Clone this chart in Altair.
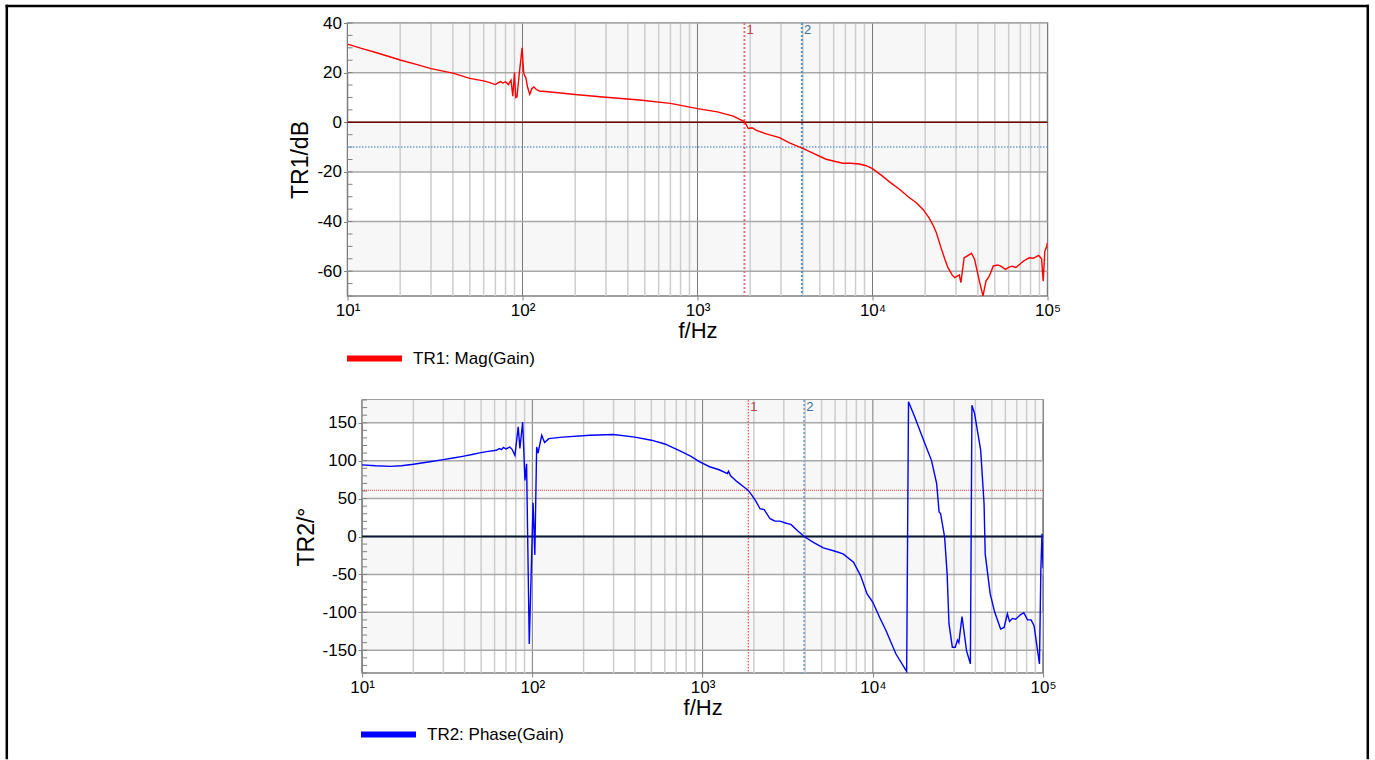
import altair as alt
import pandas as pd

# ---------------- data ----------------
mag_freq = [10, 12, 15, 20, 25, 30, 40, 50, 60, 65, 70, 72, 75, 77, 80, 83, 86, 88, 90, 91.5,
            93, 96, 99.5, 101.5, 103, 104.5, 107, 110, 113, 116, 120, 125, 140, 200, 277, 466,
            700, 1000, 1300, 1600, 1850, 1900, 1950, 2050, 2170, 2500, 2940, 3350, 3940, 4500,
            5430, 6750, 7500, 8420, 9200, 10000, 11260, 12500, 14250, 16000, 17800, 19500, 21000,
            22200, 23170, 24000, 24800, 26000, 27000, 28500, 29500, 30500, 31300, 32000, 33400,
            34500, 36800, 38300, 41000, 42800, 44500, 46500, 49000, 52000, 54000, 57600, 60000,
            62700, 66000, 70000, 73000, 78500, 83000, 89000, 92500, 94500, 96500, 98500, 100000]
mag_db = [31.5, 29.8, 27.8, 25.1, 23.2, 21.6, 19.8, 17.7, 16.7, 16.0, 15.2, 15.8, 16.4, 15.8, 16.3, 15.2, 17.0, 10.5, 20.0, 10.0,
          10.3, 20.0, 30.0, 20.0, 18.7, 18.0, 14.0, 11.3, 13.5, 14.2, 13.2, 12.6, 12.3, 11.2, 10.3, 9.0,
          7.6, 5.5, 4.2, 2.5, 0.3, -1.0, -2.5, -2.2, -3.3, -4.8, -6.2, -8.3, -10.3, -12.2,
          -14.9, -16.5, -16.5, -16.8, -17.5, -18.7, -21.4, -24.0, -27.0, -30.0, -32.4, -35.2, -38.4,
          -41.5, -44.5, -48.0, -51.2, -55.5, -58.6, -61.5, -62.6, -62.0, -61.5, -64.6, -54.6,
          -54.0, -52.8, -55.2, -64.6, -70.0, -64.0, -62.0, -57.9, -57.5, -58.0, -59.3, -58.5,
          -58.0, -58.5, -57.0, -55.9, -54.6, -54.8, -53.6, -55.0, -64.0, -52.0, -50.5, -48.5]

ph_freq = [10, 12, 14.6, 17, 20, 25, 30, 35, 39, 45, 49, 55, 61.5, 64, 66, 67.5, 70, 73.7, 76, 79,
           82.6, 84.5, 87.7, 90.5, 92.5, 95.9, 101, 103.4, 106, 108, 113.5, 118, 125, 150, 218, 300,
           400, 500, 600, 736, 850, 963, 1100, 1250, 1400, 1420, 1460, 1600, 1734, 1855, 1941, 2050,
           2174, 2300, 2490, 2650, 2845, 3100, 3300, 3600, 3950, 4500, 5120, 6000, 6690, 7700, 8470,
           9250, 10000, 10950, 11960, 13670, 15800, 16200, 17600, 20200, 22100, 23700, 24500, 25000,
           26400, 27300, 28000, 29300, 30500, 31400, 32000, 33400, 35500, 37400, 38200, 39600, 43000,
           45000, 45700, 48900, 52000, 56300, 59000, 61700, 63500, 66000, 69000, 73800, 77000, 81000,
           85000, 88500, 95200, 97000, 98500, 100000]
ph_deg = [94.4, 93.2, 92.5, 93.3, 95.2, 98.5, 101.4, 103.8, 105.7, 108.5, 110.2, 112.2, 113.7, 116, 114.5, 117.5, 115.5, 118, 115, 107,
          144.6, 116, 151, 74, 96, -141.8, 44.5, -24.2, 118, 110, 133.5, 124, 129, 131, 133.5, 134.5,
          131, 127, 122, 113, 106, 98.3, 92, 88, 83, 86, 80, 72, 66, 60.8, 55, 47,
          36.6, 35.5, 23.4, 20.5, 20.3, 17.5, 16, 8, 0, -8, -15, -19.5, -22.9, -33.9, -51.5,
          -75.7, -86.7, -106.5, -124.2, -155, -178, 177.6, 157.8, 122.5, 100.4, 69.6, 32.2, 30,
          -0.8, -49, -115, -146, -146, -136.5, -140, -105.7, -150.6, -168, 173, 162, 113.6,
          43.2, -22.9, -75.7, -100, -122, -120, -102, -112, -108, -109, -103, -100.5, -110,
          -110, -117.6, -168, -45, 3.6, -42]

assert len(mag_freq) == len(mag_db), (len(mag_freq), len(mag_db))
assert len(ph_freq) == len(ph_deg), (len(ph_freq), len(ph_deg))

decades = [10, 100, 1000, 10000, 100000]
minor_freqs = [20, 30, 40, 50, 60, 70, 80, 90,
               200, 300, 400, 500, 600, 700, 800, 900,
               2000, 3000, 4000, 5000, 6000, 7000, 8000, 9000,
               20000, 30000, 40000, 50000, 60000, 70000, 80000, 90000]

mag_ticks = [-60, -40, -20, 0, 20, 40]
mag_minor = [-70, -65, -60, -55, -50, -45, -40, -35, -30, -25, -20, -15, -10, -5,
             0, 5, 10, 15, 20, 25, 30, 35, 40]
mag_band_lo = [20, -20, -60]
mag_band_hi = [40, 0, -40]

ph_ticks = [-150, -100, -50, 0, 50, 100, 150]
ph_minor = [-180, -170, -160, -150, -140, -130, -120, -110, -100, -90, -80, -70, -60, -50, -40,
            -30, -20, -10, 0, 10, 20, 30, 40, 50, 60, 70, 80, 90, 100, 110, 120, 130, 140, 150,
            160, 170, 180]
ph_band_lo = [150, 50, -50, -150]
ph_band_hi = [180, 100, 0, -100]

marker_freq = [1855, 3950]
marker_label = ["1", "2"]
mag_marker_level = [0, -10]
ph_marker_level = [61, 0]

FONT = "Liberation Sans"
SUP = "datum.value == 10 ? '10\u00b9' : datum.value == 100 ? '10\u00b2' : datum.value == 1000 ? '10\u00b3' : datum.value == 10000 ? '10\u2074' : '10\u2075'"


def make_panel(freq, vals, ylabel, ydom, yticks, yminor, band_lo, band_hi, levels,
               trace_name, trace_color, width, height, vline_styles, hline_styles,
               label_colors, legend_x, legend_y, frame=False):
    xs = alt.Scale(type="log", domain=[10, 100000], nice=False)
    ys = alt.Scale(domain=ydom, nice=False, zero=False)
    xax = alt.Axis(values=decades, labelExpr=SUP, grid=False, domain=False,
                   tickColor="#808080", tickSize=4, labelFont=FONT, labelFontSize=17,
                   labelColor="black", labelPadding=2, title="f/Hz", titleFont=FONT,
                   titleFontSize=22, titleFontWeight="normal", titleColor="black",
                   titlePadding=2, labelFlush=False)
    yax = alt.Axis(values=yticks, labelExpr="datum.value + ''", grid=False, domain=False,
                   tickColor="#808080", tickSize=4, labelFont=FONT, labelFontSize=17,
                   labelColor="black", labelPadding=2, title=ylabel, titleFont=FONT,
                   titleFontSize=23, titleFontWeight="normal", titleColor="black",
                   titlePadding=4)

    def X(field):
        return alt.X(f"{field}:Q", scale=xs, axis=xax)

    def Y(field):
        return alt.Y(f"{field}:Q", scale=ys, axis=yax)

    bands = pd.DataFrame({"x0": [10] * len(band_lo), "x1": [100000] * len(band_lo),
                          "lo": band_lo, "hi": band_hi})
    band_layer = alt.Chart(bands).mark_rect(color="#f7f7f7").encode(
        x=X("x0"), x2="x1:Q", y=Y("lo"), y2="hi:Q")

    minor_v = alt.Chart(pd.DataFrame({"f": minor_freqs})).mark_rule(
        color="#cdcdcd", strokeWidth=1.5).encode(x=X("f"))
    major_v = alt.Chart(pd.DataFrame({"f": decades})).mark_rule(
        color="#7a7a7a", strokeWidth=1).encode(x=X("f"))
    major_h = alt.Chart(pd.DataFrame({"v": yticks})).mark_rule(
        color="#a8a8a8", strokeWidth=1.5).encode(y=Y("v"))
    minor_ticks = alt.Chart(pd.DataFrame({"v": yminor})).mark_rule(
        color="#808080", strokeWidth=1).encode(y=Y("v"), x=alt.value(0), x2=alt.value(5))

    layers = [band_layer, minor_v, major_v, major_h, minor_ticks]

    for f, (col, sw, dash) in zip(marker_freq, vline_styles):
        layers.append(alt.Chart(pd.DataFrame({"f": [f]})).mark_rule(
            color=col, strokeWidth=sw, strokeDash=dash).encode(x=X("f")))
    for lv, (col, sw, dash) in zip(levels, hline_styles):
        layers.append(alt.Chart(pd.DataFrame({"v": [lv]})).mark_rule(
            color=col, strokeWidth=sw, strokeDash=dash).encode(y=Y("v")))
    for f, lab, col in zip(marker_freq, marker_label, label_colors):
        layers.append(alt.Chart(pd.DataFrame({"f": [f], "v": [ydom[1]], "t": [lab]})).mark_text(
            align="left", baseline="top", dx=2, dy=1, fontSize=13, font=FONT, color=col
        ).encode(x=X("f"), y=Y("v"), text="t:N"))

    curve = pd.DataFrame({"f": freq, "v": vals, "trace": [trace_name] * len(freq)})
    layers.append(alt.Chart(curve).mark_line(strokeWidth=1.4, clip=True).encode(
        x=X("f"), y=Y("v"),
        color=alt.Color("trace:N", scale=alt.Scale(domain=[trace_name], range=[trace_color]),
                        legend=alt.Legend(orient="none", legendX=legend_x, legendY=legend_y,
                                          title=None, symbolType="stroke", symbolSize=3025,
                                          symbolStrokeWidth=6, labelFont=FONT,
                                          labelFontSize=17, labelColor="black",
                                          labelOffset=8))))

    if frame:
        fr = pd.DataFrame({"k": [0]})
        L, R, T, B = -340.7, 1020.3, -17.0, 735.0
        st = dict(color="black", strokeWidth=2.5, strokeCap="square")
        layers.append(alt.Chart(fr).mark_rule(**st).encode(
            x=alt.value(L), x2=alt.value(R), y=alt.value(T)))
        layers.append(alt.Chart(fr).mark_rule(**st).encode(
            x=alt.value(L), y=alt.value(T), y2=alt.value(B)))
        layers.append(alt.Chart(fr).mark_rule(**st).encode(
            x=alt.value(R), y=alt.value(T), y2=alt.value(B)))

    return alt.layer(*layers).properties(
        width=width, height=height,
        view=alt.ViewBackground(stroke="#808080", strokeWidth=1.5, fill="white"))


top = make_panel(mag_freq, mag_db, "TR1/dB", [-70, 40], mag_ticks, mag_minor,
                 mag_band_lo, mag_band_hi, mag_marker_level, "TR1: Mag(Gain)", "#ff0000",
                 700, 273,
                 [("#e0707e", 2, [2, 2]), ("#5a8fc4", 2, [2, 2])],
                 [("#6b0000", 1.5, [1, 0]), ("#6f9fcf", 1.5, [1.5, 1.5])],
                 ["#c04050", "#3a6ea5"], -3.5, 305, frame=True)

bottom = make_panel(ph_freq, ph_deg, "TR2/\u00b0", [-180, 180], ph_ticks, ph_minor,
                    ph_band_lo, ph_band_hi, ph_marker_level, "TR2: Phase(Gain)", "#0000ff",
                    681, 273,
                    [("#e03030", 1, [1.5, 1.5]), ("#88a8cc", 2, [2, 2])],
                    [("#e03030", 1, [1, 1]), ("#0a1a33", 2, [1, 0])],
                    ["#c04050", "#3a6ea5"], 10.5, 304)

spacer = alt.Chart(pd.DataFrame({"a": [0]})).mark_point(opacity=0).properties(
    width=1, height=1, view=alt.ViewBackground(stroke="transparent"))

bottom_row = alt.hconcat(spacer, bottom, spacing=13.6, bounds="flush")

chart = alt.vconcat(top, bottom_row, spacing=104, bounds="flush").resolve_scale(
    color="independent").resolve_legend(color="independent").properties(
    padding={"left": 3.5, "top": 3, "right": 0, "bottom": 0},
    background="white")

chart.save("out.html", embed_options={"renderer": "svg", "actions": False})
